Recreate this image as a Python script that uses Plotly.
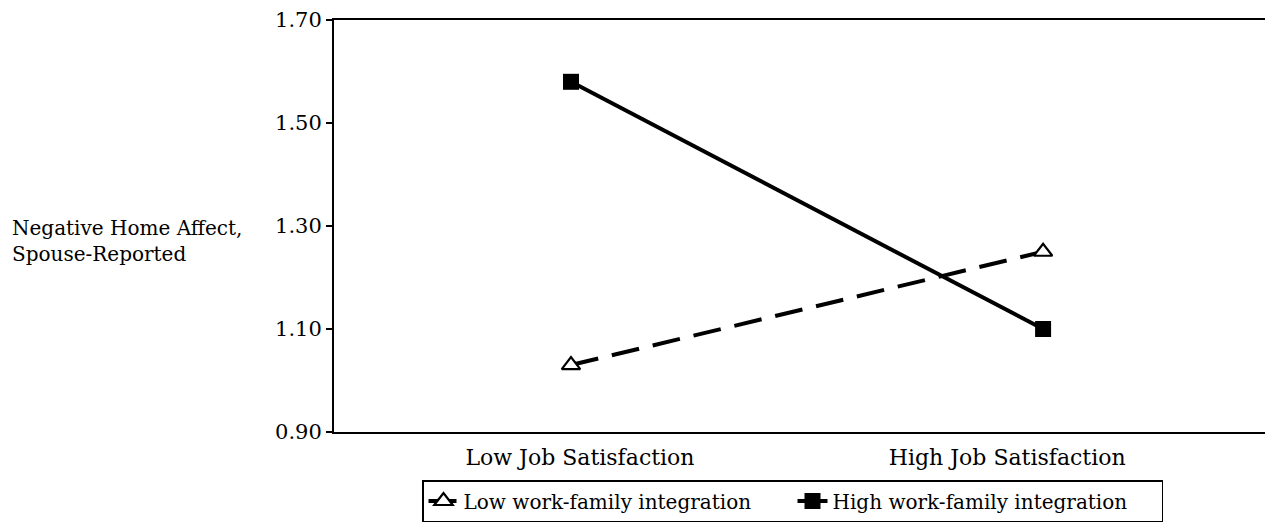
import plotly.graph_objects as go

categories = ["Low Job Satisfaction", "High Job Satisfaction"]
x_pos = [0, 1]
label_pos = [0.019, 0.924]
low_integration = [1.03, 1.25]
high_integration = [1.58, 1.10]
y_ticks = [0.90, 1.10, 1.30, 1.50, 1.70]
y_title_lines = ["Negative Home Affect,", "Spouse-Reported"]
series_names = ["Low work-family integration", "High work-family integration"]

FONT = "DejaVu Serif"
# browser body has an 8px margin, so the figure is shifted by ~8px
W, H = 1265, 515
L, T, B = 326, 12, 91
PW = W - L
PH = H - T - B

fig = go.Figure()
fig.add_trace(go.Scatter(
    x=x_pos, y=low_integration, mode="lines+markers",
    name=series_names[0],
    line=dict(color="black", width=4, dash="28px,14px"),
    marker=dict(symbol="triangle-up", size=16, color="white",
                line=dict(color="black", width=2.2)),
))
fig.add_trace(go.Scatter(
    x=x_pos, y=high_integration, mode="lines+markers",
    name=series_names[1],
    line=dict(color="black", width=4),
    marker=dict(symbol="square", size=16, color="black"),
))

fig.update_layout(
    width=W, height=H,
    margin=dict(l=L, r=0, t=T, b=B, autoexpand=False),
    paper_bgcolor="white", plot_bgcolor="white",
    font=dict(family=FONT, size=20, color="black"),
    showlegend=True,
    legend=dict(orientation="h", x=(414 - L) / PW, xanchor="left",
                y=-(B - 1) / PH, yanchor="bottom",
                bordercolor="black", borderwidth=1.5, font=dict(size=20),
                entrywidth=324, tracegroupgap=0, bgcolor="white"),
    xaxis=dict(range=[-0.502, 1.487], showgrid=False, zeroline=False,
               showline=True, linecolor="black", linewidth=2, mirror=True,
               tickmode="array", tickvals=label_pos, ticktext=categories,
               ticks="", ticklen=0, ticklabelstandoff=5, tickfont=dict(size=22)),
    yaxis=dict(range=[0.90, 1.70], showgrid=False, zeroline=False,
               showline=True, linecolor="black", linewidth=2,
               tickmode="array", tickvals=y_ticks,
               ticktext=[f"{v:.2f}" for v in y_ticks],
               ticks="outside", ticklen=6, tickwidth=2, tickcolor="black",
               tickfont=dict(size=21)),
    annotations=[dict(text="<br>".join(y_title_lines), xref="paper", yref="y",
                      x=(2 - L) / PW, y=1.27, xanchor="left", yanchor="middle",
                      align="left", showarrow=False, font=dict(size=20))],
)

fig.write_html("out.html")
